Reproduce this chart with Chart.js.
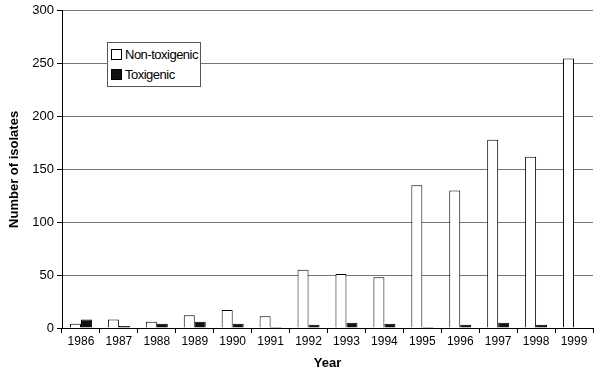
<!DOCTYPE html>
<html>
<head>
<meta charset="utf-8">
<script src="https://cdn.jsdelivr.net/npm/chart.js@4"></script>
<style>
  body { margin: 0; background: #fff; }
  #wrap { position: relative; width: 600px; height: 375px; }
  #legend {
    position: absolute; left: 107px; top: 42px; height: 39px;
    border: 1px solid #555; background: #fff; padding: 2px 2px 2px 3px;
    font: 13px "Liberation Sans", Arial, sans-serif; color: #000;
    letter-spacing: -0.5px; white-space: nowrap;
  }
  #legend div { line-height: 20px; }
  #legend span {
    display: inline-block; width: 9px; height: 9px; border: 1px solid #000;
    margin-right: 3px; vertical-align: -1px;
  }
</style>
</head>
<body>
<div id="wrap">
  <canvas id="chart" width="600" height="375"></canvas>
  <div id="legend"></div>
</div>
<script>
const years = ["1986", "1987", "1988", "1989", "1990", "1991", "1992",
               "1993", "1994", "1995", "1996", "1997", "1998", "1999"];
const nonToxigenic = [4, 8, 6, 12, 17, 11, 55, 51, 48, 135, 130, 178, 162, 255];
const toxigenic = [8, 2, 4, 6, 4, 1, 3, 5, 4, 1, 3, 5, 3, 0];
const yTicks = [0, 50, 100, 150, 200, 250, 300];

const font = "'Liberation Sans', Arial, sans-serif";

const ctx = document.getElementById("chart");
const chart = new Chart(ctx, {
    type: "bar",
    data: {
        labels: years,
        datasets: [{
            label: "Non-toxigenic",
            data: nonToxigenic,
            backgroundColor: "#fff",
            borderColor: "#000",
            borderWidth: 1
        }, {
            label: "Toxigenic",
            data: toxigenic,
            backgroundColor: "#111",
            borderColor: "#000",
            borderWidth: 1
        }]
    },
    options: {
        responsive: false,
        animation: false,
        layout: { padding: { top: 9, right: 7, left: 3, bottom: 0 } },
        datasets: { bar: { categoryPercentage: 0.58, barPercentage: 1 } },
        plugins: { legend: { display: false }, tooltip: { enabled: false } },
        scales: {
            x: {
                afterFit: axis => { axis.height = 47; },
                grid: { drawOnChartArea: false, tickLength: 5, color: "#000" },
                border: { color: "#000" },
                ticks: { color: "#000", font: { family: font, size: 12 }, maxRotation: 0, autoSkip: false, padding: 1 },
                title: { display: true, text: "Year", color: "#000", font: { family: font, size: 13, weight: "bold" }, padding: { top: 3, bottom: 4 } }
            },
            y: {
                min: 0, max: 300,
                afterFit: axis => { axis.width = 59; },
                afterBuildTicks: axis => { axis.ticks = yTicks.map(v => ({ value: v })); },
                grid: { color: "#777", tickColor: "#000", tickLength: 5 },
                border: { color: "#000" },
                ticks: { color: "#000", font: { family: font, size: 13 }, padding: 3 },
                title: { display: true, text: "Number of isolates", color: "#000", font: { family: font, size: 13, weight: "bold" }, padding: { top: 4, bottom: 2 } }
            }
        }
    }
});

const legend = document.getElementById("legend");
chart.data.datasets.forEach(ds => {
    const row = document.createElement("div");
    const box = document.createElement("span");
    box.style.background = ds.backgroundColor;
    row.appendChild(box);
    row.appendChild(document.createTextNode(ds.label));
    legend.appendChild(row);
});
</script>
</body>
</html>
